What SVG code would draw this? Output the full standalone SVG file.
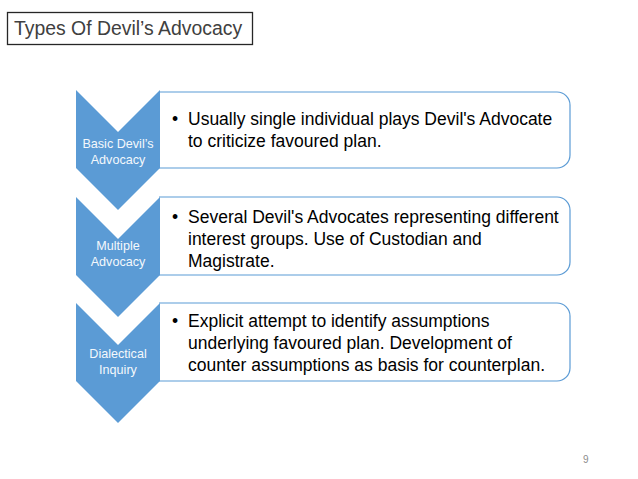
<svg xmlns="http://www.w3.org/2000/svg" width="638" height="479" viewBox="0 0 638 479">
<style>
.chev{fill:#5b9bd5;}
.box{fill:#ffffff;stroke:#5b9bd5;stroke-width:1.2;}
.lbl{font-family:"Liberation Sans",Arial,sans-serif;font-size:12.6px;fill:#f4f8fc;text-anchor:middle;}
.txt{font-family:"Liberation Sans",Arial,sans-serif;font-size:17.5px;fill:#000000;}
.title{font-family:"Liberation Sans",Arial,sans-serif;font-size:19.4px;fill:#404040;}
</style>
<rect width="638" height="479" fill="#ffffff"/>
<g id="title">
<rect x="7.5" y="12.5" width="245" height="32" fill="none" stroke="#262626" stroke-width="1.3"/>
<text class="title" x="14" y="35">Types Of Devil’s Advocacy</text>
</g>
<g id="connectors"></g>
<g id="item1">
<path class="box" d="M159,92 H557 A13,13 0 0 1 570,105 V155 A13,13 0 0 1 557,168 H159"/>
<path class="chev" d="M76,90 L118,132 L160,90 L160,168 L118,210 L76,168 Z"/>
<text class="lbl" x="118" y="148">Basic Devil’s</text>
<text class="lbl" x="118" y="164">Advocacy</text>
<text class="txt" x="172" y="125">•</text>
<text class="txt" x="188" y="125">Usually single individual plays Devil's Advocate</text>
<text class="txt" x="188" y="147">to criticize favoured plan.</text>
</g>
<g id="item2">
<path class="box" d="M159,197 H557 A13,13 0 0 1 570,210 V262 A13,13 0 0 1 557,275 H159"/>
<path class="chev" d="M76,197 L118,239 L160,197 L160,275 L118,317 L76,275 Z"/>
<text class="lbl" x="118" y="250">Multiple</text>
<text class="lbl" x="118" y="266">Advocacy</text>
<text class="txt" x="172" y="223">•</text>
<text class="txt" x="188" y="223">Several Devil's Advocates representing different</text>
<text class="txt" x="188" y="245">interest groups. Use of Custodian and</text>
<text class="txt" x="188" y="267">Magistrate.</text>
</g>
<g id="item3">
<path class="box" d="M159,303 H557 A13,13 0 0 1 570,316 V368 A13,13 0 0 1 557,381 H159"/>
<path class="chev" d="M76,303 L118,345 L160,303 L160,381 L118,423 L76,381 Z"/>
<text class="lbl" x="118" y="358">Dialectical</text>
<text class="lbl" x="118" y="374">Inquiry</text>
<text class="txt" x="172" y="327">•</text>
<text class="txt" x="188" y="327">Explicit attempt to identify assumptions</text>
<text class="txt" x="188" y="349">underlying favoured plan. Development of</text>
<text class="txt" x="188" y="371">counter assumptions as basis for counterplan.</text>
</g>
<text x="583" y="463" font-family="'Liberation Sans',Arial,sans-serif" font-size="10px" fill="#8c8c8c">9</text>
</svg>
